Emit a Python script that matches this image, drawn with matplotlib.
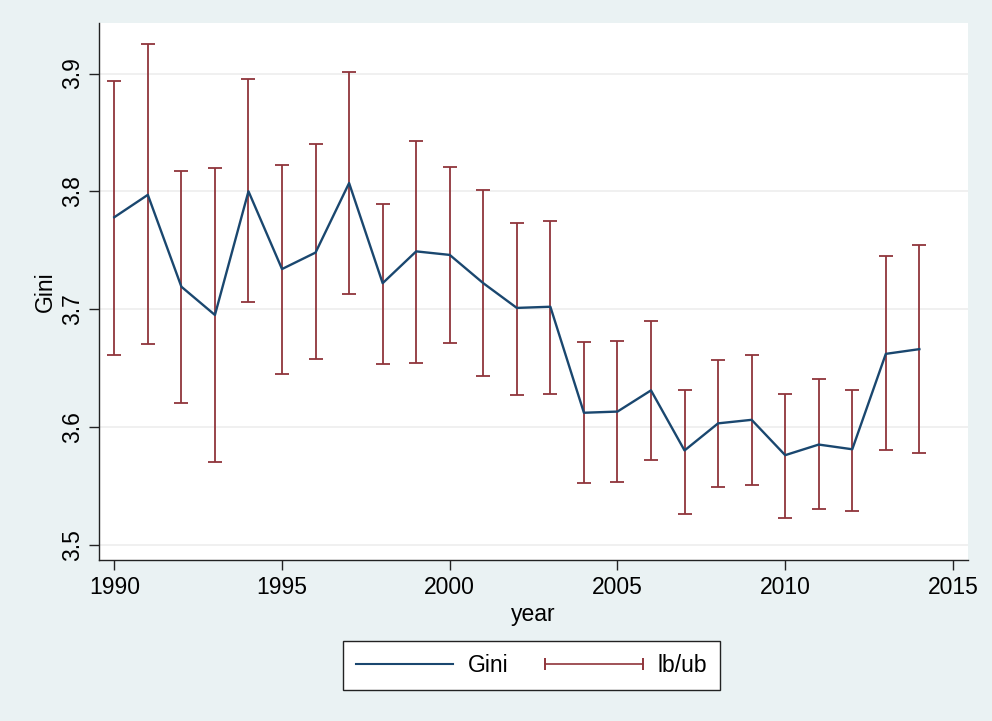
import numpy as np
import matplotlib
matplotlib.use('Agg')
import matplotlib.pyplot as plt
from matplotlib.lines import Line2D
from matplotlib.legend_handler import HandlerBase

plt.rcParams['font.family'] = ['Liberation Sans', 'DejaVu Sans']

# values
years = np.arange(1990, 2015)
gini = [3.778, 3.797, 3.719, 3.695, 3.800, 3.734, 3.748, 3.807, 3.722, 3.749,
        3.746, 3.722, 3.701, 3.702, 3.612, 3.613, 3.631, 3.580, 3.603, 3.606,
        3.576, 3.585, 3.581, 3.662, 3.666]
upper = [3.894, 3.925, 3.817, 3.820, 3.895, 3.822, 3.840, 3.901, 3.789, 3.843,
         3.821, 3.801, 3.773, 3.775, 3.672, 3.673, 3.690, 3.631, 3.657, 3.661,
         3.628, 3.641, 3.631, 3.745, 3.754]
lower = [3.661, 3.670, 3.620, 3.570, 3.706, 3.645, 3.658, 3.713, 3.653, 3.654,
         3.671, 3.643, 3.627, 3.628, 3.552, 3.553, 3.572, 3.526, 3.549, 3.551,
         3.523, 3.530, 3.529, 3.580, 3.578]
xticks = [1990, 1995, 2000, 2005, 2010, 2015]
yticks = [3.5, 3.6, 3.7, 3.8, 3.9]

bg = '#eaf2f3'
navy = '#1a476f'
maroon = '#90353b'
axcol = '#222222'
FS = 16.5


class CapLineHandler(HandlerBase):
    # horizontal range bar with caps, like the Stata rcap legend key
    def create_artists(self, legend, orig, xd, yd, w, h, fontsize, trans):
        y = h / 2 - yd
        ln = Line2D([-xd, w - xd], [y, y], color=maroon, lw=1.2)
        caps = Line2D([-xd, w - xd], [y, y], color=maroon, ls='none',
                      marker='|', markersize=9, markeredgewidth=1.4)
        ln.set_transform(trans)
        caps.set_transform(trans)
        return [ln, caps]


fig = plt.figure(figsize=(9.92, 7.21), dpi=100)
fig.patch.set_facecolor(bg)
ax = fig.add_axes([0.1, 0.2233, 0.8758, 0.745])
ax.set_facecolor('white')

lo = np.asarray(gini) - np.asarray(lower)
hi = np.asarray(upper) - np.asarray(gini)
ax.errorbar(years, gini, yerr=[lo, hi], fmt='none', ecolor=maroon,
            elinewidth=1.3, capsize=5, capthick=1.3, zorder=2)
ax.plot(years, gini, color=navy, lw=1.7, zorder=3)

ax.set_xlim(1989.55, 2015.45)
ax.set_ylim(3.487, 3.943)
ax.set_xticks(xticks)
ax.set_yticks(yticks)
ax.set_yticklabels(['%.1f' % v for v in yticks], rotation=90, va='center')
ax.grid(axis='y', color='#eeeeee', lw=1.2)
ax.set_axisbelow(True)
ax.tick_params(labelsize=FS, length=7.2, width=1.0, color=axcol, pad=4)
for s in ['top', 'right']:
    ax.spines[s].set_visible(False)
for s in ['left', 'bottom']:
    ax.spines[s].set_color(axcol)
    ax.spines[s].set_linewidth(1.0)

ax.set_xlabel('year', fontsize=FS, labelpad=3)
ax.set_ylabel('Gini', fontsize=FS, labelpad=3)

h_gini = Line2D([], [], color=navy, lw=1.5)
h_ci = Line2D([], [], color=maroon)
leg = fig.legend([h_gini, h_ci], ['Gini', 'lb/ub'], ncol=2,
                 loc='center', bbox_to_anchor=(0.5358, 0.077),
                 handler_map={h_ci: CapLineHandler()},
                 fontsize=FS, frameon=True, fancybox=False, framealpha=1,
                 handlelength=4.25, columnspacing=1.6, handletextpad=0.65,
                 borderpad=0.55, borderaxespad=0)
leg.get_frame().set_facecolor('white')
leg.get_frame().set_edgecolor('#222222')
leg.get_frame().set_linewidth(1.0)

fig.savefig('out.png', dpi=100, facecolor=bg)
